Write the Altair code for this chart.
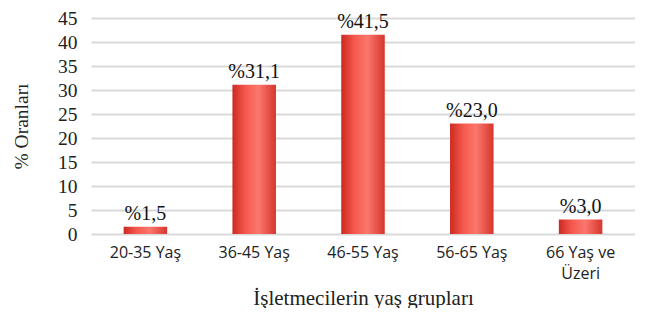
import altair as alt
import pandas as pd

categories = ["20-35 Yaş", "36-45 Yaş", "46-55 Yaş", "56-65 Yaş", "66 Yaş ve\nÜzeri"]
values = [1.5, 31.1, 41.5, 23.0, 3.0]
labels = ["%1,5", "%31,1", "%41,5", "%23,0", "%3,0"]

df = pd.DataFrame({"cat": categories, "val": values, "lab": labels})

serif = "Liberation Serif"
sans = "Open Sans"

x = alt.X("cat:N", sort=categories,
          scale=alt.Scale(paddingInner=0.6, paddingOuter=0.3),
          axis=alt.Axis(title="İşletmecilerin yaş grupları", labelAngle=0,
                        labelFont=sans, labelFontSize=16, labelColor="#222",
                        labelExpr="split(datum.label, '\\n')", labelPadding=10,
                        labelLineHeight=21,
                        titleFont=serif, titleFontSize=21, titleFontWeight="normal",
                        titleColor="#222", titlePadding=6,
                        domain=False, ticks=False, grid=False))

y = alt.Y("val:Q",
          scale=alt.Scale(domain=[0, 45], nice=False),
          axis=alt.Axis(title="% Oranları", values=[0, 5, 10, 15, 20, 25, 30, 35, 40, 45],
                        labelFont=serif, labelFontSize=19.5, labelColor="#222",
                        labelPadding=14, titleFont=serif, titleFontSize=19.5,
                        titleFontWeight="normal", titleColor="#222", titlePadding=26,
                        domain=False, ticks=False, gridColor="#d9d9d9", gridWidth=2))

base = alt.Chart(df).encode(x=x, y=y)

bars = base.mark_bar(
    color=alt.Gradient(gradient="linear", x1=0, x2=1, y1=0, y2=0,
                       stops=[alt.GradientStop(color="#cc2a20", offset=0),
                              alt.GradientStop(color="#f6584d", offset=0.3),
                              alt.GradientStop(color="#fb776d", offset=0.6),
                              alt.GradientStop(color="#d6362c", offset=1)])
)

text = base.mark_text(font=serif, fontSize=20, dy=-13, color="#111").encode(text="lab:N")

chart = (bars + text).properties(width=544, height=216, padding={"left": 3, "top": 0, "right": 0, "bottom": 0}).configure_view(stroke=None)

chart.save("out.html", embed_options={"renderer": "svg", "actions": False})
